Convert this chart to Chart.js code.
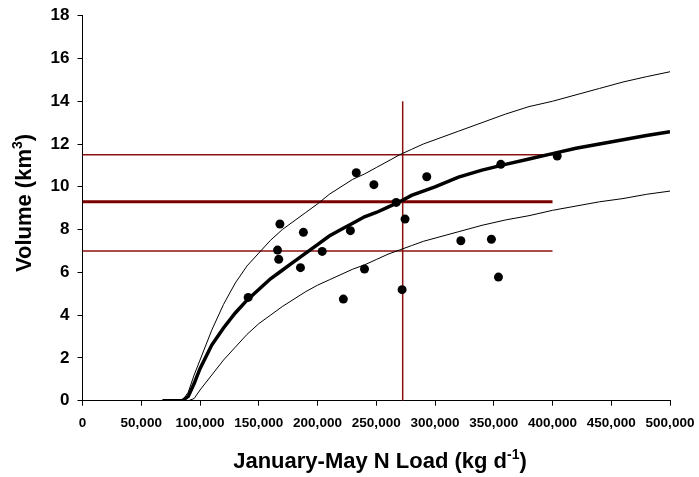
<!DOCTYPE html>
<html>
<head>
<meta charset="utf-8">
<script src="https://cdn.jsdelivr.net/npm/chart.js@4.4.1/dist/chart.umd.min.js"></script>
<style>
  body { margin: 0; background: #fff; }
  #wrap { width: 699px; height: 477px; }
</style>
</head>
<body>
<div id="wrap"><canvas id="myChart" width="699" height="477"></canvas></div>
<script>
// observed loads (kg/d) and volumes (km3)
const obsLoad = [141000, 166000, 167000, 168000, 185500, 188000, 204000, 222000, 228000, 233000,
                 240000, 248000, 267000, 272000, 274500, 293000, 322000, 348000, 354000, 356000, 404000];
const obsVolume = [4.83, 7.04, 6.61, 8.26, 6.22, 7.87, 6.98, 4.75, 7.95, 10.66,
                   6.16, 10.10, 9.27, 5.19, 8.49, 10.47, 7.48, 7.55, 5.78, 11.05, 11.44];

// model curve (load on x) with upper / lower bounds
const curveLoad = [68000, 85000, 90000, 95000, 100000, 110000, 120000, 130000, 140000, 150000,
                   160000, 170000, 180000, 190000, 200000, 210000, 220000, 230000, 240000, 250000,
                   260000, 270000, 280000, 290000, 300000, 320000, 340000, 360000, 380000, 400000,
                   420000, 440000, 460000, 480000, 500000];
const curveMid = [0, 0, 0.2, 0.8, 1.5, 2.6, 3.4, 4.1, 4.7, 5.2,
                  5.7, 6.1, 6.5, 6.9, 7.3, 7.7, 8.0, 8.3, 8.6, 8.8,
                  9.05, 9.3, 9.6, 9.8, 10.0, 10.45, 10.78, 11.05, 11.3, 11.55,
                  11.8, 12.0, 12.2, 12.4, 12.58];
const curveUpper = [0, 0, 0.4, 1.2, 1.9, 3.3, 4.5, 5.5, 6.3, 6.9,
                    7.5, 8.0, 8.4, 8.8, 9.2, 9.65, 10.0, 10.35, 10.6, 10.9,
                    11.2, 11.5, 11.75, 12.0, 12.2, 12.6, 13.0, 13.4, 13.75, 14.0,
                    14.3, 14.6, 14.9, 15.15, 15.38];
const curveLower = [0, 0, 0, 0.1, 0.5, 1.2, 1.9, 2.5, 3.1, 3.6,
                    4.0, 4.4, 4.75, 5.1, 5.4, 5.65, 5.9, 6.15, 6.35, 6.6,
                    6.85, 7.05, 7.25, 7.45, 7.6, 7.9, 8.2, 8.45, 8.65, 8.9,
                    9.1, 9.3, 9.45, 9.65, 9.8];

// reference lines
const refLoad = 272500;
const refTop = 14;
const refVolumes = [11.5, 9.3, 7.0];
const refLineEnd = 400000;

const xTickLabels = ['0', '50,000', '100,000', '150,000', '200,000', '250,000',
                     '300,000', '350,000', '400,000', '450,000', '500,000'];
const yTickLabels = ['0', '2', '4', '6', '8', '10', '12', '14', '16', '18'];

const toXY = (xs, ys) => xs.map((x, i) => ({ x: x, y: ys[i] }));
const red = '#8B1111';

const titlePlugin = {
    id: 'titles',
    afterDraw: (chart) => {
        const ctx = chart.ctx;
        ctx.save();
        ctx.fillStyle = '#000';
        ctx.textBaseline = 'alphabetic';

        // x title with superscript
        const big = 'bold 22px "Liberation Sans", Arial, sans-serif';
        const small = 'bold 14px "Liberation Sans", Arial, sans-serif';
        let a = 'January-May N Load (kg d', s = '-1', b = ')';
        ctx.font = big;
        let wa = ctx.measureText(a).width, wb = ctx.measureText(b).width;
        ctx.font = small;
        let ws = ctx.measureText(s).width;
        let x0 = 380 - (wa + ws + wb) / 2, y0 = 468;
        ctx.font = big; ctx.fillText(a, x0, y0);
        ctx.font = small; ctx.fillText(s, x0 + wa, y0 - 9);
        ctx.font = big; ctx.fillText(b, x0 + wa + ws, y0);

        // y title
        a = 'Volume (km'; s = '3';
        ctx.translate(31, 203);
        ctx.rotate(-Math.PI / 2);
        ctx.font = big;
        wa = ctx.measureText(a).width; wb = ctx.measureText(b).width;
        ctx.font = small;
        ws = ctx.measureText(s).width;
        x0 = -(wa + ws + wb) / 2;
        ctx.font = big; ctx.fillText(a, x0, 0);
        ctx.font = small; ctx.fillText(s, x0 + wa, -9);
        ctx.font = big; ctx.fillText(b, x0 + wa + ws, 0);
        ctx.restore();
    }
};

const datasets = [
    {
        label: 'Observed',
        data: toXY(obsLoad, obsVolume),
        showLine: false,
        pointRadius: 4.5,
        pointBackgroundColor: '#000',
        pointBorderWidth: 0
    },
    {
        label: 'Model',
        data: toXY(curveLoad, curveMid),
        showLine: true,
        borderColor: '#000',
        borderWidth: 3.5,
        pointRadius: 0,
        tension: 0
    },
    {
        label: 'Upper',
        data: toXY(curveLoad, curveUpper),
        showLine: true,
        borderColor: '#000',
        borderWidth: 1,
        pointRadius: 0,
        tension: 0
    },
    {
        label: 'Lower',
        data: toXY(curveLoad, curveLower),
        showLine: true,
        borderColor: '#000',
        borderWidth: 1,
        pointRadius: 0,
        tension: 0
    },
    {
        label: 'Ref load',
        data: [{ x: refLoad, y: 0 }, { x: refLoad, y: refTop }],
        showLine: true,
        borderColor: red,
        borderWidth: 1.5,
        pointRadius: 0
    }
];
refVolumes.forEach((v, i) => {
    datasets.push({
        label: 'Ref volume ' + (i + 1),
        data: [{ x: 0, y: v }, { x: refLineEnd, y: v }],
        showLine: true,
        borderColor: i == 1 ? '#7A0000' : red,
        borderWidth: i == 1 ? 3 : 1.5,
        pointRadius: 0
    });
});

const chart = new Chart(document.getElementById('myChart'), {
    type: 'scatter',
    data: { datasets: datasets },
    options: {
        responsive: false,
        animation: false,
        layout: { padding: { left: 0, top: 15.7, right: 29, bottom: 0 } },
        plugins: {
            legend: { display: false },
            tooltip: { enabled: false }
        },
        scales: {
            x: {
                type: 'linear',
                min: 0,
                max: 500000,
                afterFit: (scale) => {
                    scale.height = 76.3;
                    scale.paddingLeft = 0;
                    scale.paddingRight = 0;
                },
                afterBuildTicks: (scale) => {
                    scale.ticks = xTickLabels.map((t, i) => ({ value: i * 50000 }));
                },
                grid: { drawOnChartArea: false, drawTicks: true, tickLength: 5, color: '#000' },
                border: { color: '#000', width: 1 },
                ticks: {
                    color: '#000',
                    padding: 9,
                    maxRotation: 0,
                    autoSkip: false,
                    font: { family: '"Liberation Sans", Arial, sans-serif', size: 13.5, weight: 'bold' },
                    callback: (v, i) => xTickLabels[i]
                }
            },
            y: {
                type: 'linear',
                min: 0,
                max: 18,
                afterFit: (scale) => {
                    scale.width = 82.5;
                    scale.paddingTop = 0;
                    scale.paddingBottom = 0;
                },
                afterBuildTicks: (scale) => {
                    scale.ticks = yTickLabels.map((t, i) => ({ value: i * 2 }));
                },
                grid: { drawOnChartArea: false, drawTicks: true, tickLength: 5, color: '#000' },
                border: { color: '#000', width: 1 },
                ticks: {
                    color: '#000',
                    padding: 8,
                    autoSkip: false,
                    font: { family: '"Liberation Sans", Arial, sans-serif', size: 17, weight: 'bold' },
                    callback: (v, i) => yTickLabels[i]
                }
            }
        }
    },
    plugins: [titlePlugin]
});
</script>
</body>
</html>
